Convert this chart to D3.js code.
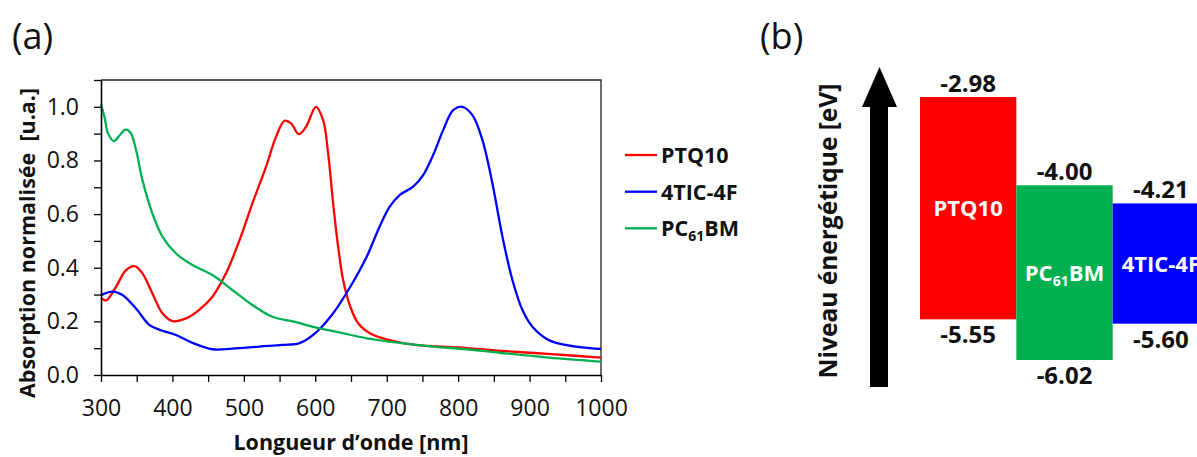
<!DOCTYPE html>
<html><head><meta charset="utf-8">
<script src="https://cdn.jsdelivr.net/npm/d3@7"></script>
<style>
html,body{margin:0;padding:0;background:#fff;}
svg{display:block;font-family:"Open Sans",sans-serif;}
</style></head><body>
<svg id="chart" width="1197" height="457"></svg>
<script>
// ---------- data : panel (a) ----------
const xTickValues = [300,350,400,450,500,550,600,650,700,750,800,850,900,950,1000];
const xTickLabels = ["300","","400","","500","","600","","700","","800","","900","","1000"];
const yTickValues = [0,0.1,0.2,0.3,0.4,0.5,0.6,0.7,0.8,0.9,1.0,1.1];
const yTickLabels = ["0.0","","0.2","","0.4","","0.6","","0.8","","1.0",""];

const ptq10Wavelength = [300,307,321,335,347,358,372,386,400,419,437,456,475,494,512,531,545,557,566,577,587,601,611,618,625,632,639,649,660,677,700,740,800,860,930,1000];
const ptq10Absorption = [0.288,0.278,0.329,0.391,0.406,0.379,0.304,0.230,0.201,0.211,0.242,0.292,0.379,0.503,0.640,0.776,0.888,0.948,0.938,0.898,0.925,1.0,0.95,0.826,0.640,0.478,0.354,0.255,0.193,0.155,0.133,0.112,0.103,0.090,0.078,0.065];

const tic4fWavelength = [300,316,330,349,368,386,405,428,456,484,522,554,579,602,625,649,672,690,704,718,737,751,765,779,793,806,820,834,848,862,876,890,904,927,950,973,1000];
const tic4fAbsorption = [0.298,0.311,0.298,0.248,0.186,0.165,0.149,0.120,0.096,0.098,0.106,0.112,0.120,0.161,0.230,0.329,0.441,0.553,0.627,0.671,0.702,0.745,0.820,0.913,0.988,1.0,0.969,0.876,0.714,0.516,0.354,0.242,0.180,0.130,0.112,0.103,0.097];

const pcbmWavelength = [300,305,310,318,326,334,341,349,358,372,386,405,428,456,484,512,540,570,600,635,672,718,765,811,858,927,1000];
const pcbmAbsorption = [1.01,0.96,0.90,0.872,0.893,0.915,0.905,0.84,0.727,0.602,0.516,0.453,0.41,0.373,0.317,0.261,0.217,0.199,0.178,0.158,0.137,0.120,0.106,0.096,0.083,0.065,0.050];

const seriesNames = ["PTQ10","4TIC-4F","PC61BM"];
const seriesColors = ["#ff0000","#0000ff","#00b050"];

// ---------- data : panel (b) ----------
const materials = ["PTQ10","PC61BM","4TIC-4F"];
const lumoLevels = [-2.98,-4.00,-4.21];
const homoLevels = [-5.55,-6.02,-5.60];
const lumoLabels = ["-2.98","-4.00","-4.21"];
const homoLabels = ["-5.55","-6.02","-5.60"];
const barColors = ["#ff0000","#00b050","#0000ff"];

// ---------- drawing ----------
const svg = d3.select("#chart");
const plot = {left:101, right:601, top:80, bottom:375};

const x = d3.scaleLinear().domain([300,1000]).range([plot.left, plot.right]);
const y = d3.scaleLinear().domain([0,1.1]).range([plot.bottom, plot.top]);

// frame (top/right)
svg.append("path")
  .attr("d", `M${plot.left},${plot.top}H${plot.right}V${plot.bottom}`)
  .attr("fill","none").attr("stroke","#222").attr("stroke-width",1.3);

// curves
const series = [
  {w: ptq10Wavelength, a: ptq10Absorption},
  {w: tic4fWavelength, a: tic4fAbsorption},
  {w: pcbmWavelength, a: pcbmAbsorption}
];
const line = d3.line().x(d=>x(d[0])).y(d=>y(d[1])).curve(d3.curveCatmullRom.alpha(0.5));
series.forEach((s,i)=>{
  svg.append("path")
    .datum(s.w.map((w,j)=>[w,s.a[j]]))
    .attr("fill","none")
    .attr("stroke",seriesColors[i])
    .attr("stroke-width",2.3)
    .attr("d",line);
});

// axes
const xAxis = d3.axisBottom(x).tickValues(xTickValues)
  .tickFormat((d,i)=>xTickLabels[i]).tickSize(7).tickSizeOuter(0).tickPadding(18);
const gx = svg.append("g").attr("transform",`translate(0,${plot.bottom})`).call(xAxis);
const yAxis = d3.axisLeft(y).tickValues(yTickValues)
  .tickFormat((d,i)=>yTickLabels[i]).tickSize(7).tickSizeOuter(0).tickPadding(15);
const gy = svg.append("g").attr("transform",`translate(${plot.left},0)`).call(yAxis);
[gx,gy].forEach(g=>{
  g.selectAll("path").attr("stroke","#000").attr("stroke-width",1.6);
  g.selectAll("line").attr("stroke","#000").attr("stroke-width",1.3);
  g.selectAll("text").attr("font-family","Open Sans").attr("font-size",23).attr("fill","#111");
});

// axis titles
svg.append("text")
  .attr("x",(plot.left+plot.right)/2).attr("y",450)
  .attr("text-anchor","middle").attr("font-weight","bold").attr("font-size",21.5).attr("fill","#111")
  .text("Longueur d\u2019onde [nm]");
svg.append("text")
  .attr("transform","translate(35,243) rotate(-90)")
  .attr("text-anchor","middle").attr("font-weight","bold").attr("font-size",21.5).attr("fill","#111")
  .style("white-space","pre")
  .text("Absorption normalisée  [u.a.]");

// helper for subscript text
function richText(sel, name, subSize){
  const m = name.match(/^(PC)(61)(BM)$/);
  if(!m){ sel.text(name); return; }
  sel.append("tspan").text(m[1]);
  sel.append("tspan").attr("font-size",subSize).attr("dy",5).text(m[2]);
  sel.append("tspan").attr("dy",-5).text(m[3]);
}

// legend
const legY = [155,191.7,228.3];
seriesNames.forEach((n,i)=>{
  svg.append("line").attr("x1",625).attr("x2",657).attr("y1",legY[i]).attr("y2",legY[i])
    .attr("stroke",seriesColors[i]).attr("stroke-width",2.3);
  const t = svg.append("text").attr("x",661).attr("y",legY[i]+8)
    .attr("font-weight","bold").attr("font-size",21.5).attr("fill","#111");
  richText(t,n,14);
});

// panel labels
svg.append("text").attr("x",12).attr("y",49).attr("font-size",36).attr("fill","#111").text("(a)");
svg.append("text").attr("x",760).attr("y",49).attr("font-size",36).attr("fill","#111").text("(b)");

// ---------- panel (b) ----------
const e = d3.scaleLinear().domain([-2.98,-6.02]).range([97,360]);
const band = d3.scaleBand().domain(materials).range([920,1209]).padding(0);

// arrow
svg.append("path")
  .attr("d","M870,387V107H862L879.5,67L897,107H888V387Z")
  .attr("fill","#000");
svg.append("text")
  .attr("transform","translate(837,231) rotate(-90)")
  .attr("text-anchor","middle").attr("font-weight","bold").attr("font-size",24.5).attr("fill","#111")
  .text("Niveau énergétique [eV]");

materials.forEach((m,i)=>{
  const x0 = band(m), w = band.bandwidth();
  const yT = e(lumoLevels[i]), yB = e(homoLevels[i]);
  svg.append("rect").attr("x",x0).attr("y",yT).attr("width",w).attr("height",yB-yT)
    .attr("fill",barColors[i]);
  svg.append("text").attr("x",x0+w/2).attr("y",yT-5)
    .attr("text-anchor","middle").attr("font-weight","bold").attr("font-size",24).attr("fill","#111")
    .text(lumoLabels[i]);
  svg.append("text").attr("x",x0+w/2).attr("y",yB+24)
    .attr("text-anchor","middle").attr("font-weight","bold").attr("font-size",24).attr("fill","#111")
    .text(homoLabels[i]);
  const t = svg.append("text").attr("x",x0+w/2).attr("y",(yT+yB)/2+8)
    .attr("text-anchor","middle").attr("font-weight","bold").attr("font-size",22).attr("fill","#fff");
  richText(t,m,14);
});
</script>
</body></html>
